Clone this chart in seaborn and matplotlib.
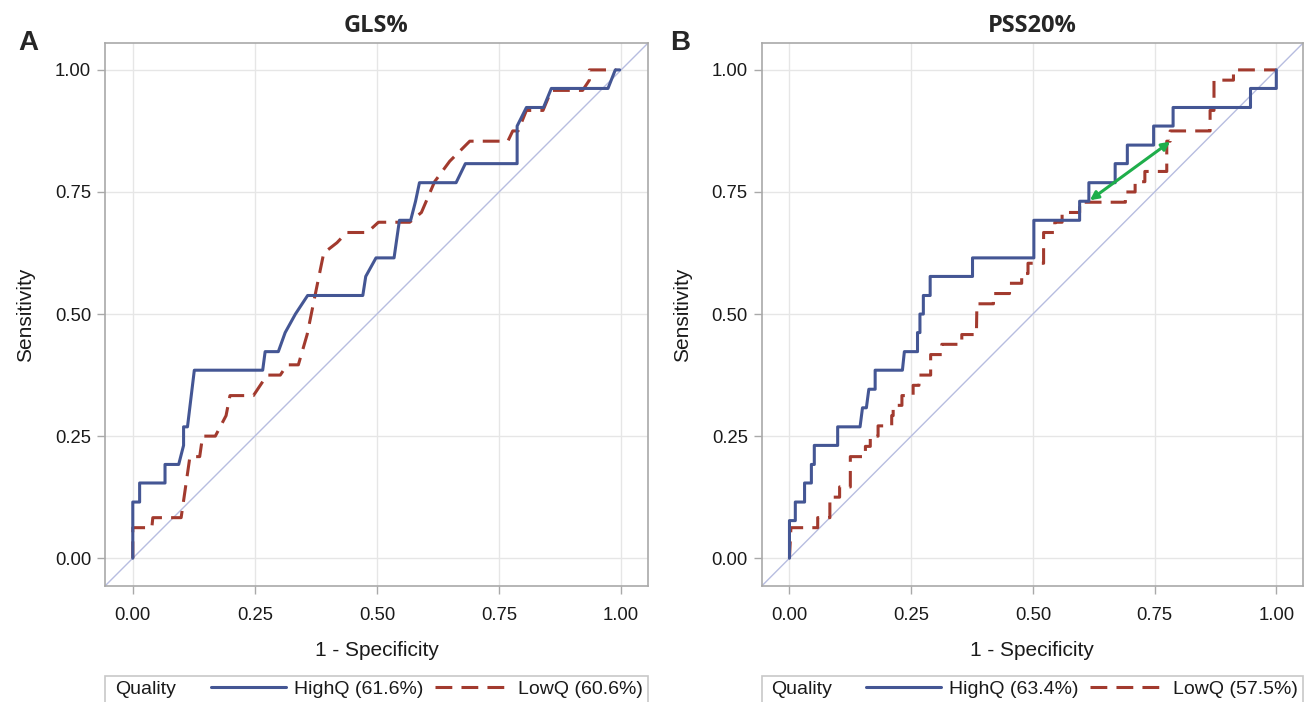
import matplotlib
matplotlib.use("Agg")
import matplotlib.pyplot as plt
from matplotlib.patches import Rectangle
import seaborn as sns

# ROC step curves: x = 1 - specificity, y = sensitivity
gls_high_fpr = [0, 0, 0.014, 0.014, 0.066, 0.066, 0.094, 0.104, 0.104, 0.112, 0.126, 0.266, 0.271,
                0.298, 0.312, 0.333, 0.358, 0.471, 0.477, 0.498, 0.535, 0.546, 0.569, 0.579, 0.587,
                0.662, 0.681, 0.787, 0.787, 0.806, 0.841, 0.857, 0.973, 0.988, 0.997]
gls_high_tpr = [0, 0.115, 0.115, 0.154, 0.154, 0.192, 0.192, 0.231, 0.269, 0.269, 0.385, 0.385, 0.423,
                0.423, 0.462, 0.5, 0.538, 0.538, 0.577, 0.615, 0.615, 0.692, 0.692, 0.731, 0.769,
                0.769, 0.808, 0.808, 0.885, 0.923, 0.923, 0.962, 0.962, 1.0, 1.0]

gls_low_fpr = [0, 0, 0.039, 0.041, 0.099, 0.117, 0.137, 0.143, 0.169, 0.191, 0.199, 0.247, 0.275,
               0.302, 0.316, 0.339, 0.357, 0.374, 0.391, 0.418, 0.438, 0.48, 0.503, 0.567, 0.591,
               0.618, 0.649, 0.69, 0.768, 0.778, 0.789, 0.806, 0.84, 0.857, 0.921, 0.935, 0.935, 0.99]
gls_low_tpr = [0, 0.0625, 0.0625, 0.083, 0.083, 0.208, 0.208, 0.25, 0.25, 0.292, 0.333, 0.333, 0.375,
               0.375, 0.396, 0.396, 0.458, 0.542, 0.625, 0.646, 0.667, 0.667, 0.688, 0.688, 0.708,
               0.771, 0.813, 0.854, 0.854, 0.875, 0.875, 0.917, 0.917, 0.958, 0.958, 0.979, 1.0, 1.0]

pss_high_fpr = [0, 0, 0.012, 0.012, 0.031, 0.031, 0.045, 0.045, 0.051, 0.051, 0.099, 0.099, 0.145,
                0.150, 0.158, 0.163, 0.176, 0.176, 0.232, 0.236, 0.263, 0.263, 0.268, 0.268, 0.275,
                0.275, 0.289, 0.289, 0.376, 0.376, 0.502, 0.502, 0.596, 0.596, 0.615, 0.615, 0.669,
                0.669, 0.694, 0.694, 0.748, 0.748, 0.788, 0.788, 0.947, 0.947, 1.0, 1.0]
pss_high_tpr = [0, 0.077, 0.077, 0.115, 0.115, 0.154, 0.154, 0.192, 0.192, 0.231, 0.231, 0.269, 0.269,
                0.308, 0.308, 0.346, 0.346, 0.385, 0.385, 0.423, 0.423, 0.462, 0.462, 0.5, 0.5,
                0.538, 0.538, 0.577, 0.577, 0.615, 0.615, 0.692, 0.692, 0.731, 0.731, 0.769, 0.769,
                0.808, 0.808, 0.846, 0.846, 0.885, 0.885, 0.923, 0.923, 0.962, 0.962, 1.0]

pss_low_fpr = [0, 0.003, 0.058, 0.058, 0.083, 0.083, 0.103, 0.103, 0.125, 0.125, 0.156, 0.156, 0.166,
               0.166, 0.182, 0.182, 0.21, 0.21, 0.213, 0.213, 0.231, 0.231, 0.254, 0.254, 0.266,
               0.266, 0.29, 0.29, 0.313, 0.313, 0.354, 0.354, 0.384, 0.385, 0.419, 0.419, 0.452,
               0.452, 0.477, 0.477, 0.49, 0.49, 0.522, 0.522, 0.545, 0.545, 0.56, 0.56, 0.596,
               0.596, 0.69, 0.69, 0.71, 0.71, 0.73, 0.73, 0.775, 0.775, 0.782, 0.782, 0.864,
               0.864, 0.872, 0.872, 0.912, 0.912, 1.0]
pss_low_tpr = [0, 0.0625, 0.0625, 0.083, 0.083, 0.125, 0.125, 0.146, 0.146, 0.208, 0.208, 0.229, 0.229,
               0.25, 0.25, 0.271, 0.271, 0.292, 0.292, 0.313, 0.313, 0.333, 0.333, 0.354, 0.354,
               0.375, 0.375, 0.417, 0.417, 0.438, 0.438, 0.458, 0.458, 0.521, 0.521, 0.542, 0.542,
               0.563, 0.563, 0.583, 0.583, 0.604, 0.604, 0.667, 0.667, 0.688, 0.688, 0.708, 0.708,
               0.729, 0.729, 0.75, 0.75, 0.771, 0.771, 0.792, 0.792, 0.854, 0.854, 0.875, 0.875,
               0.917, 0.917, 0.979, 0.979, 1.0, 1.0]

titles = ["GLS%", "PSS20%"]
panel_letters = ["A", "B"]
high_labels = ["HighQ (61.6%)", "HighQ (63.4%)"]
low_labels = ["LowQ (60.6%)", "LowQ (57.5%)"]
tick_vals = [0, 0.25, 0.5, 0.75, 1.0]
tick_labels = ["0.00", "0.25", "0.50", "0.75", "1.00"]
# green double arrow in panel B (tail, head)
arrow_from = (0.617, 0.733)
arrow_to = (0.782, 0.853)

BLUE = "#445694"
RED = "#A23A2E"
DIAG = "#b7bde0"
FRAME = "#a9a9a9"

sns.set_style("whitegrid")
plt.rcParams["font.family"] = ["Liberation Sans", "DejaVu Sans"]

fig = plt.figure(figsize=(13.07, 7.02), dpi=100)
axes = [fig.add_axes([0.0803, 0.1652, 0.4155, 0.7735]),
        fig.add_axes([0.5828, 0.1652, 0.4142, 0.7735])]

curves = [(gls_high_fpr, gls_high_tpr, gls_low_fpr, gls_low_tpr),
          (pss_high_fpr, pss_high_tpr, pss_low_fpr, pss_low_tpr)]

for i, ax in enumerate(axes):
    hx, hy, lx, ly = curves[i]
    ax.axline((0, 0), slope=1, color=DIAG, lw=1.0, zorder=1)
    sns.lineplot(x=hx, y=hy, sort=False, estimator=None, color=BLUE, lw=2.2, ax=ax, zorder=3)
    sns.lineplot(x=lx, y=ly, sort=False, estimator=None, color=RED, lw=2.2,
                 linestyle=(0, (5.5, 3)), ax=ax, zorder=2)

    ax.set_xlim(-0.057, 1.055)
    ax.set_ylim(-0.057, 1.055)
    ax.set_xticks(tick_vals)
    ax.set_xticklabels(tick_labels)
    ax.set_yticks(tick_vals)
    ax.set_yticklabels(tick_labels)
    ax.grid(True, color="#e6e6e6", lw=1.0)
    for sp in ax.spines.values():
        sp.set_color(FRAME)
        sp.set_linewidth(1.2)
    ax.tick_params(axis="both", length=6, width=1, color=FRAME, labelsize=13.3, labelcolor="#1a1a1a")
    ax.tick_params(axis="x", pad=9, bottom=True)
    ax.tick_params(axis="y", pad=4, left=True)
    ax.set_xlabel("1 - Specificity", fontsize=15, color="#1a1a1a", labelpad=12)
    ax.set_ylabel("Sensitivity", fontsize=15, color="#1a1a1a", labelpad=14)
    ax.set_title(titles[i], fontsize=17, fontweight="bold", family=["Open Sans", "DejaVu Sans"], pad=8)

    # legend strip below the axes
    box = Rectangle((0, -0.218), 1, 0.052, transform=ax.transAxes, fill=False,
                    edgecolor="#c8c8c8", lw=1.2, clip_on=False)
    ax.add_patch(box)
    ax.text(0.018, -0.19, "Quality", transform=ax.transAxes, ha="left", va="center",
            fontsize=14, color="#1a1a1a")
    lines = ax.get_lines()
    leg = ax.legend(handles=[lines[1], lines[2]], labels=[high_labels[i], low_labels[i]],
                    loc="center right", bbox_to_anchor=(0.99, -0.19), ncol=2, frameon=False,
                    fontsize=14, handlelength=3.85, handletextpad=0.4, columnspacing=0.6,
                    borderpad=0, borderaxespad=0)
    for t in leg.get_texts():
        t.set_color("#1a1a1a")

    fig.text([0.022, 0.52][i], 0.939, panel_letters[i], fontsize=20, fontweight="bold",
             ha="center", va="center")

axes[1].annotate("", xy=arrow_to, xytext=arrow_from,
                 arrowprops=dict(arrowstyle="<|-|>", color="#1fae4b", lw=2.2,
                                 mutation_scale=12, shrinkA=0, shrinkB=0), zorder=5)

fig.savefig("out.png", dpi=100)
